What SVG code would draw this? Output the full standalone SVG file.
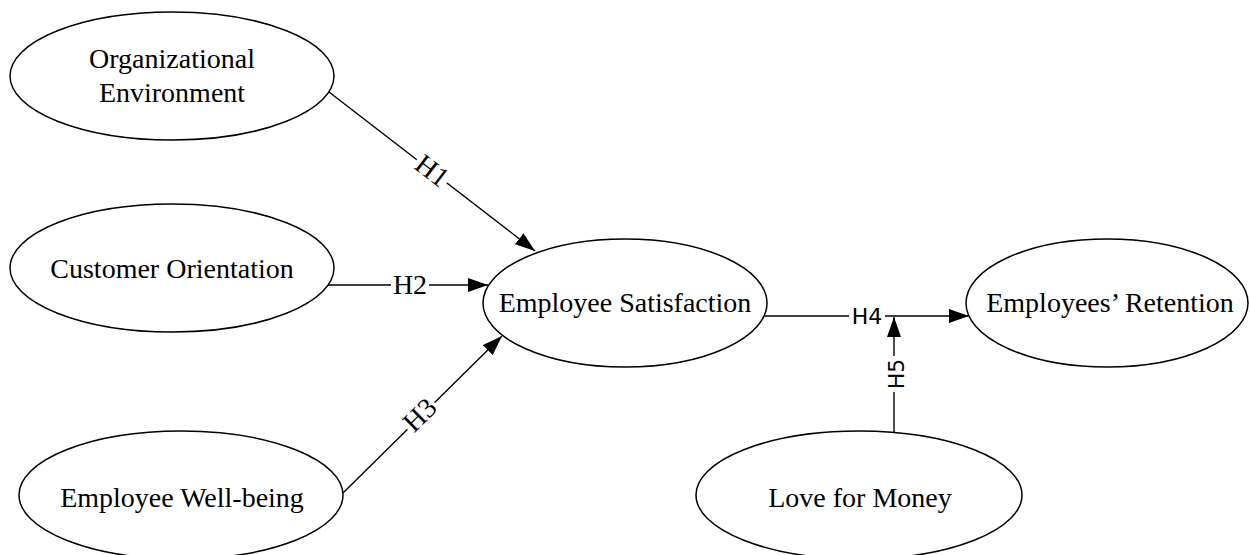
<svg xmlns="http://www.w3.org/2000/svg" width="1250" height="555" viewBox="0 0 1250 555">
<style>
.node ellipse{fill:#fff;stroke:#000;stroke-width:1.5}
.node text{font-family:"Liberation Serif","Times New Roman",serif;font-size:28px;fill:#000;text-anchor:middle}
.edge line{stroke:#000;stroke-width:1.4;fill:none}
.lbl{font-family:"Liberation Serif","Times New Roman",serif;font-size:28px;fill:#000;text-anchor:middle}
.lbls{font-family:"DejaVu Sans",sans-serif;font-size:22px;fill:#000;text-anchor:middle}
.bg{fill:#fff}
</style>
<defs>
<marker id="arr" markerUnits="userSpaceOnUse" markerWidth="20" markerHeight="14" refX="20" refY="7" orient="auto" viewBox="0 0 20 14">
<path d="M0,0 L20,7 L0,14 z" fill="#000"/>
</marker>
</defs>
<rect width="1250" height="555" fill="#fff"/>
<g id="connectors" class="edge">
<line x1="329" y1="92" x2="535" y2="251" marker-end="url(#arr)"/>
<line x1="328" y1="285" x2="488" y2="285" marker-end="url(#arr)"/>
<line x1="343" y1="493" x2="502" y2="336" marker-end="url(#arr)"/>
<line x1="764" y1="316" x2="969" y2="316" marker-end="url(#arr)"/>
<line x1="894" y1="433" x2="894" y2="317" marker-end="url(#arr)"/>
<g transform="translate(432,171) rotate(37.4)"><rect class="bg" x="-19" y="-11" width="38" height="22"/><text class="lbl" y="9">H1</text></g>
<g transform="translate(410,285)"><rect class="bg" x="-19" y="-11" width="38" height="22"/><text class="lbl" y="9">H2</text></g>
<g transform="translate(420,415) rotate(-44.5)"><rect class="bg" x="-19" y="-11" width="38" height="22"/><text class="lbl" y="9">H3</text></g>
<g transform="translate(867,316)"><rect class="bg" x="-18" y="-10" width="36" height="20"/><text class="lbls" y="8">H4</text></g>
<g transform="translate(896,374) rotate(-90)"><rect class="bg" x="-18" y="-10" width="36" height="20"/><text class="lbls" y="8">H5</text></g>
</g>
<g id="org_env" class="node"><ellipse cx="172" cy="76" rx="162" ry="64"/><text x="172" y="68">Organizational</text><text x="172" y="102">Environment</text></g>
<g id="cust_orient" class="node"><ellipse cx="172" cy="268" rx="162" ry="64"/><text x="172" y="278">Customer Orientation</text></g>
<g id="emp_wellbeing" class="node"><ellipse cx="181" cy="495" rx="162" ry="64"/><text x="182" y="507">Employee Well-being</text></g>
<g id="emp_satisfaction" class="node"><ellipse cx="625" cy="303" rx="142" ry="64"/><text x="625" y="312">Employee Satisfaction</text></g>
<g id="emp_retention" class="node"><ellipse cx="1107" cy="303" rx="141" ry="64"/><text x="1110" y="312">Employees’ Retention</text></g>
<g id="love_money" class="node"><ellipse cx="859" cy="495" rx="163" ry="64"/><text x="860" y="507">Love for Money</text></g>
</svg>
